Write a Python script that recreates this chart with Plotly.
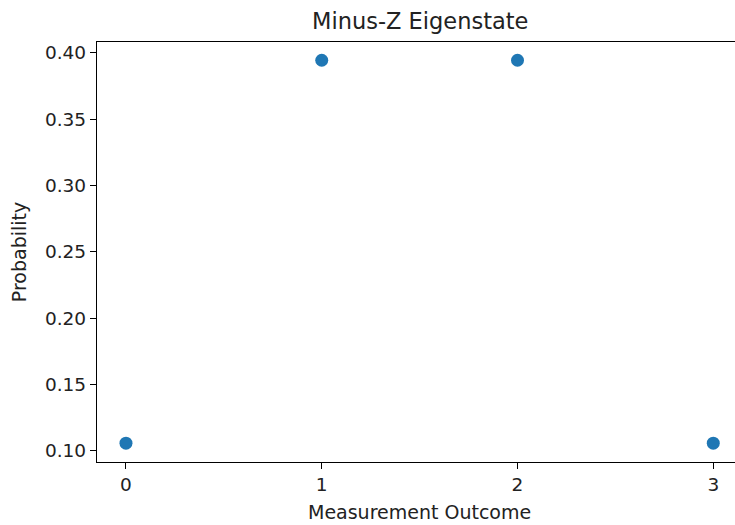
import plotly.graph_objects as go

# Measurement outcomes and their probabilities
outcomes = [0, 1, 2, 3]
probabilities = [0.10566, 0.39434, 0.39434, 0.10566]
x_ticks = [0, 1, 2, 3]
y_ticks = [0.10, 0.15, 0.20, 0.25, 0.30, 0.35, 0.40]

title_text = "Minus-Z Eigenstate"
x_label = "Measurement Outcome"
y_label = "Probability"

FONT = "DejaVu Sans"
TEXT = "#222222"

fig = go.Figure(
    go.Scatter(
        x=outcomes,
        y=probabilities,
        mode="markers",
        marker=dict(color="#1f77b4", size=13, line=dict(width=0)),
        showlegend=False,
    )
)

axis_common = dict(
    showgrid=False,
    zeroline=False,
    showline=True,
    linecolor="black",
    linewidth=1.3,
    ticks="outside",
    ticklen=6,
    tickwidth=1.3,
    tickcolor="black",
    tickfont=dict(family=FONT, size=18.5, color=TEXT),
)

fig.update_xaxes(
    range=[-0.148, 3.111],
    tickvals=x_ticks,
    ticktext=[str(v) for v in x_ticks],
    mirror=True,
    **axis_common,
)
fig.update_yaxes(
    range=[0.0915, 0.4081],
    tickvals=y_ticks,
    ticktext=[f"{v:.2f}" for v in y_ticks],
    **axis_common,
)

fig.update_layout(
    width=735,
    height=525,
    margin=dict(l=97, r=0, t=42, b=63),
    paper_bgcolor="white",
    plot_bgcolor="white",
    annotations=[
        dict(
            text=title_text, xref="x", yref="paper", x=1.5, y=1.05,
            xanchor="center", yanchor="middle", showarrow=False,
            font=dict(family=FONT, size=22.5, color=TEXT),
        ),
        dict(
            text=x_label, xref="x", yref="paper", x=1.5, y=-0.119,
            xanchor="center", yanchor="middle", showarrow=False,
            font=dict(family=FONT, size=19, color=TEXT),
        ),
        dict(
            text=y_label, xref="paper", yref="paper", x=-0.122, y=0.5,
            xanchor="center", yanchor="middle", showarrow=False,
            textangle=-90,
            font=dict(family=FONT, size=19, color=TEXT),
        ),
    ],
)

fig.write_html("out.html")
